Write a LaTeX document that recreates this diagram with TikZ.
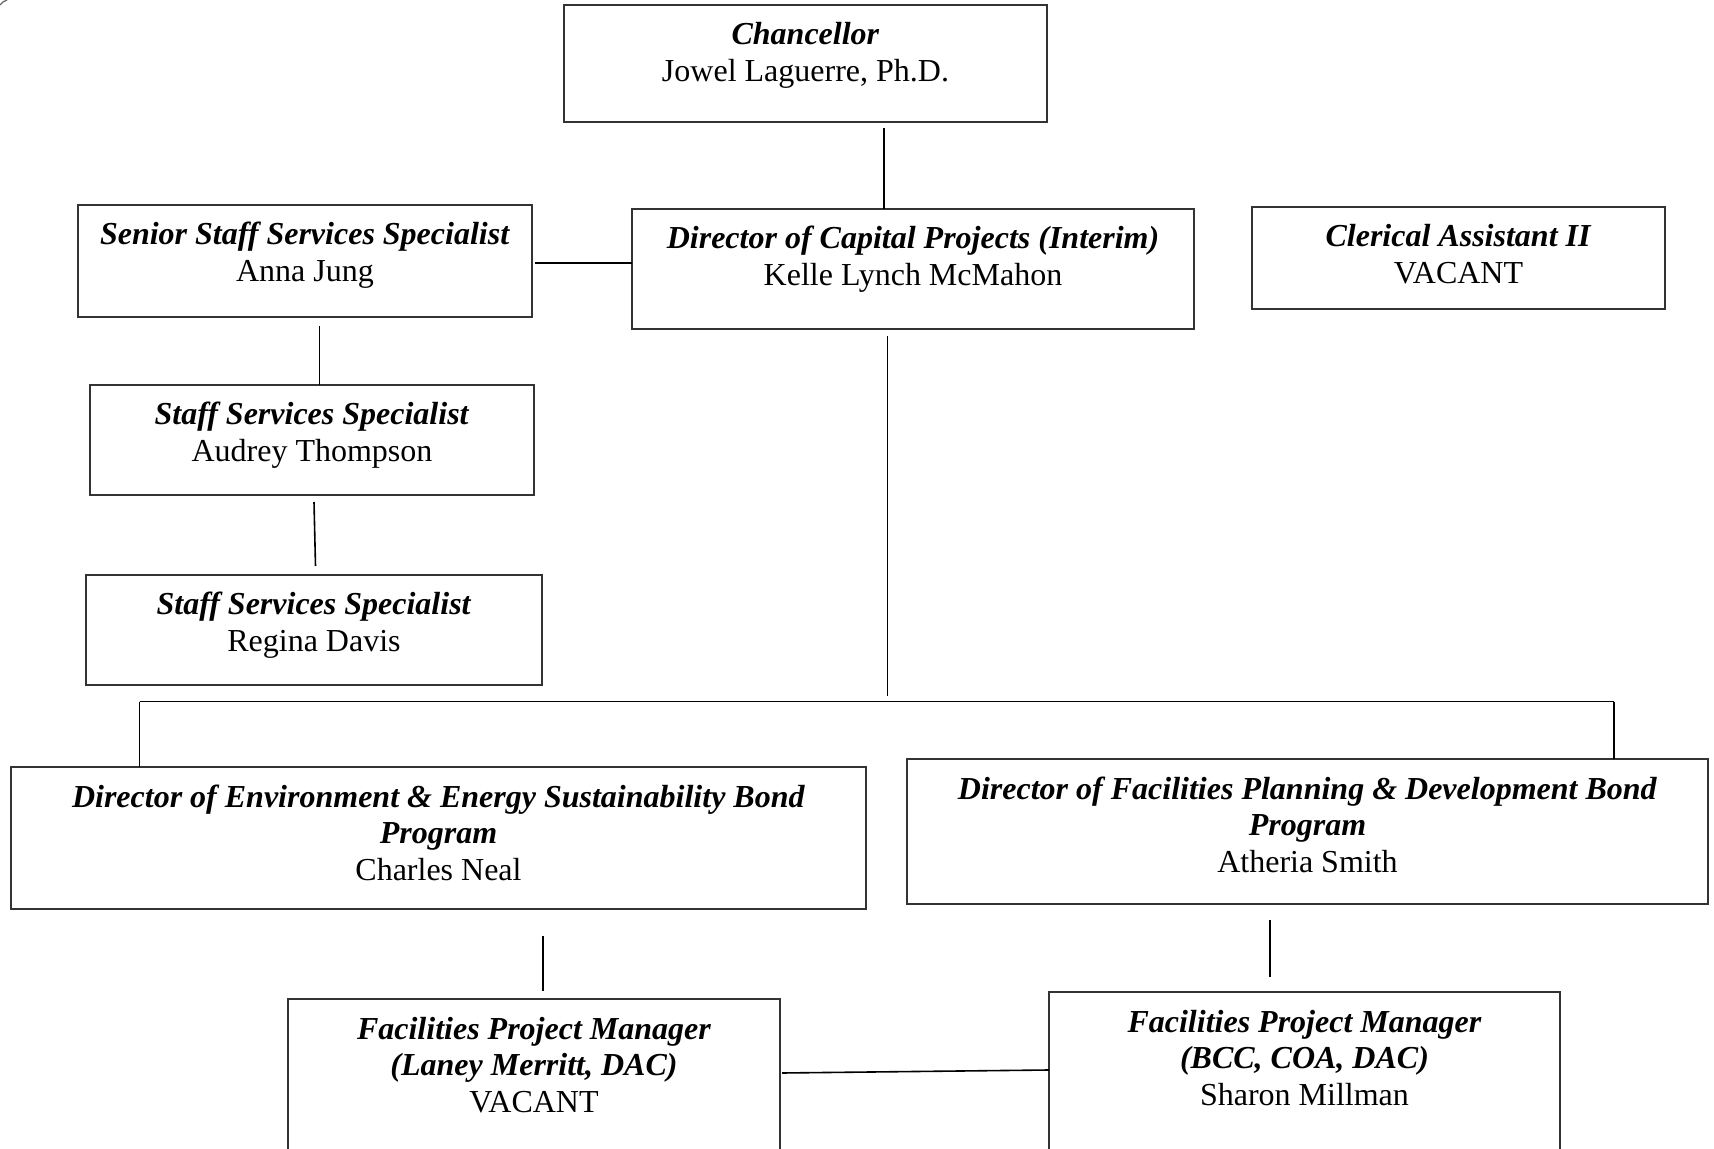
\documentclass[tikz,border=0pt]{standalone}
\usepackage{fontspec}
\setmainfont{Liberation Serif}
\tikzset{
  orgbox/.style={draw=black!80, line width=1pt, rectangle, inner sep=0pt, outer sep=0pt},
  link/.style={draw=black, line width=0.8pt},
  roletext/.style={anchor=base, inner sep=0pt, font=\fontsize{16}{18.25}\selectfont},
}
\newcommand\ttl[1]{\textbf{\textit{#1}}}
\newcommand\stk[1]{\vtop{\halign{\hfil##\hfil\cr#1\crcr}}}
\newcommand\orgnode[5]{\node[orgbox, minimum width={(#4-#2)*0.5pt}, minimum height={(#5-#3)*0.5pt}] (#1) at ({(#2+#4)/2},{(#3+#5)/2}) {};}
\begin{document}
\begin{tikzpicture}[x=0.5pt,y=-0.5pt]
\useasboundingbox (0,0) rectangle (1714,1149);
\clip (0,0) rectangle (1714,1149);
\fill[white] (0,0) rectangle (1714,1149);
% small mark at top-left corner
\coordinate (m1) at (0,5); \coordinate (m2) at (7,0);
\draw[black!60, line width=0.6pt] (m1) to[bend left=15] (m2);
% boxes
\orgnode{chan}{564}{5}{1047}{122}
\orgnode{senior}{78}{205}{532}{317}
\orgnode{dcp}{632}{209}{1194}{329}
\orgnode{cler}{1252}{207}{1665}{309}
\orgnode{audrey}{90}{385}{534}{495}
\orgnode{regina}{86}{575}{542}{685}
\orgnode{env}{11}{767}{866}{909}
\orgnode{fac}{907}{759}{1708}{904}
\orgnode{fpmL}{288}{999}{780}{1175}
\orgnode{fpmR}{1049}{992}{1560}{1175}
% texts
\node[roletext] (chanT) at ([yshift=-20pt]chan.north) {\stk{\ttl{Chancellor}\cr Jowel Laguerre, Ph.D.}};
\node[roletext] (seniorT) at ([yshift=-20pt]senior.north) {\stk{\ttl{Senior Staff Services Specialist}\cr Anna Jung}};
\node[roletext] (dcpT) at ([yshift=-20pt]dcp.north) {\stk{\ttl{Director of Capital Projects (Interim)}\cr Kelle Lynch McMahon}};
\node[roletext] (clerT) at ([yshift=-20pt]cler.north) {\stk{\ttl{Clerical Assistant II}\cr VACANT}};
\node[roletext] (audreyT) at ([yshift=-20pt]audrey.north) {\stk{\ttl{Staff Services Specialist}\cr Audrey Thompson}};
\node[roletext] (reginaT) at ([yshift=-20pt]regina.north) {\stk{\ttl{Staff Services Specialist}\cr Regina Davis}};
\node[roletext] (envT) at ([yshift=-20pt]env.north) {\stk{\ttl{Director of Environment \& Energy Sustainability Bond}\cr \ttl{Program}\cr Charles Neal}};
\node[roletext] (facT) at ([yshift=-20pt]fac.north) {\stk{\ttl{Director of Facilities Planning \& Development Bond}\cr \ttl{Program}\cr Atheria Smith}};
\node[roletext] (fpmLT) at ([yshift=-20pt]fpmL.north) {\stk{\ttl{Facilities Project Manager}\cr \ttl{(Laney Merritt, DAC)}\cr VACANT}};
\node[roletext] (fpmRT) at ([yshift=-20pt]fpmR.north) {\stk{\ttl{Facilities Project Manager}\cr \ttl{(BCC, COA, DAC)}\cr Sharon Millman}};
% connectors
\coordinate (c1) at (884,128);
\draw[link] (c1) -- (c1 |- dcp.north);
\coordinate (c2) at (535,263);
\draw[link] (c2) -- (c2 -| dcp.west);
\coordinate (c3) at (319.5,326);
\draw[link] (c3) -- (c3 |- audrey.north);
\coordinate (c4) at (314,502); \coordinate (c5) at (315.5,566);
\draw[link] (c4) -- (c5);
\coordinate (c6) at (887.5,336); \coordinate (c7) at (887.5,696);
\draw[link] (c6) -- (c7);
\coordinate (busL) at (139.5,701.7); \coordinate (busR) at (1614,701.7);
\draw[link] (busL) -- (busR);
\draw[link] (busL) -- (busL |- env.north);
\draw[link] (busR) -- (busR |- fac.north);
\coordinate (c8) at (543,936); \coordinate (c9) at (543,991);
\draw[link] (c8) -- (c9);
\coordinate (c10) at (1270,920); \coordinate (c11) at (1270,977);
\draw[link] (c10) -- (c11);
\coordinate (c12) at (782,1073);
\draw[link] (c12) -- (fpmR.west |- 0,1070);
\end{tikzpicture}
\end{document}
